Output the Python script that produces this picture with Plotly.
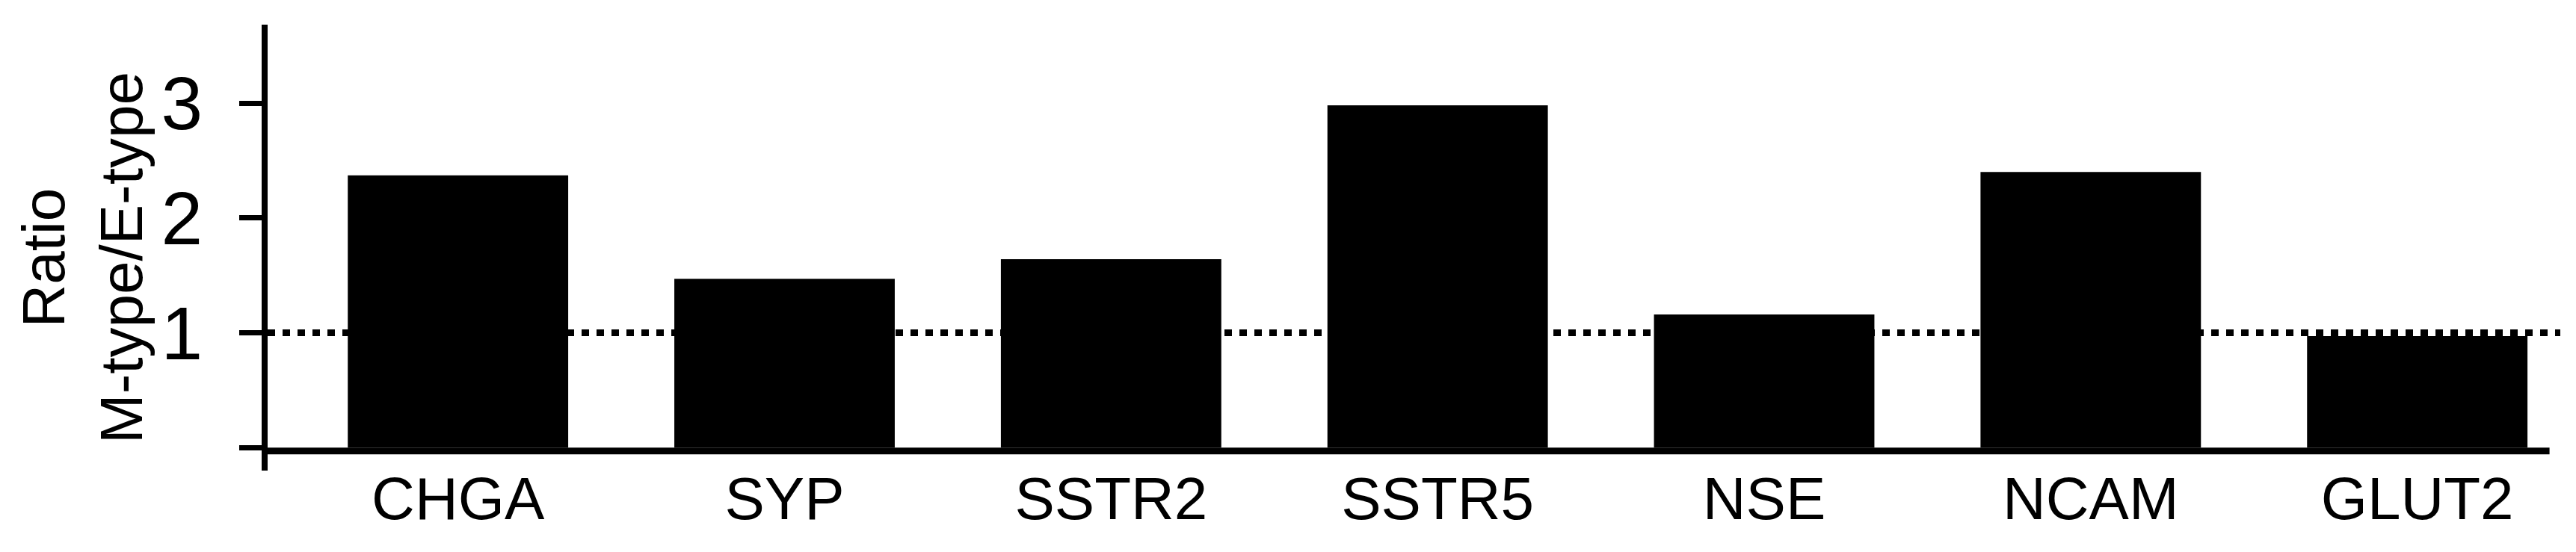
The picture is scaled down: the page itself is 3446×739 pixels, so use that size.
import plotly.graph_objects as go

# gene markers, ratio M-type / E-type
genes = ["CHGA", "SYP", "SSTR2", "SSTR5", "NSE", "NCAM", "GLUT2"]
ratio = [2.37, 1.47, 1.64, 2.98, 1.16, 2.40, 0.97]

y_ticks = [0, 1, 2, 3]
y_labels = ["", "1", "2", "3"]

W, H = 3446, 739
ml, mr, mt, mb = 350, 29, 25, 117

fig = go.Figure()
fig.add_trace(go.Bar(
    x=list(range(len(genes))), y=ratio,
    marker=dict(color="black", line=dict(width=0)),
    width=0.675,
))

# reference line at ratio = 1
fig.add_shape(type="line", xref="x", yref="y",
              x0=-0.583, x1=6.438, y0=1, y1=1,
              line=dict(color="black", width=9, dash="10px,10px"))
# x axis baseline
fig.add_shape(type="line", xref="x", yref="y",
              x0=-0.583, x1=6.405, y0=-0.03, y1=-0.03,
              line=dict(color="black", width=9))

fig.add_annotation(
    text="Ratio<br>M-type/E-type", textangle=-90,
    xref="paper", yref="paper",
    x=(102 - ml) / (W - ml - mr), y=(622 - 337) / (H - mt - mb),
    showarrow=False, xanchor="center", yanchor="middle",
    font=dict(family="Liberation Sans", size=80, color="black"),
)

fig.update_layout(
    width=W, height=H,
    margin=dict(l=ml, r=mr, t=mt, b=mb),
    paper_bgcolor="white", plot_bgcolor="white",
    showlegend=False,
    font=dict(family="Liberation Sans", color="black"),
    xaxis=dict(
        range=[-0.583, 6.438],
        tickmode="array", tickvals=list(range(len(genes))), ticktext=genes,
        tickfont=dict(size=80), ticks="", showline=False,
        showgrid=False, zeroline=False, ticklabelstandoff=-16,
    ),
    yaxis=dict(
        range=[-0.2, 3.683],
        tickmode="array", tickvals=y_ticks, ticktext=y_labels,
        tickfont=dict(size=100), ticks="outside", ticklen=30, tickwidth=7,
        tickcolor="black", showline=True, linewidth=8, linecolor="black",
        showgrid=False, zeroline=False, ticklabelstandoff=29,
    ),
)

fig.write_html("out.html")
